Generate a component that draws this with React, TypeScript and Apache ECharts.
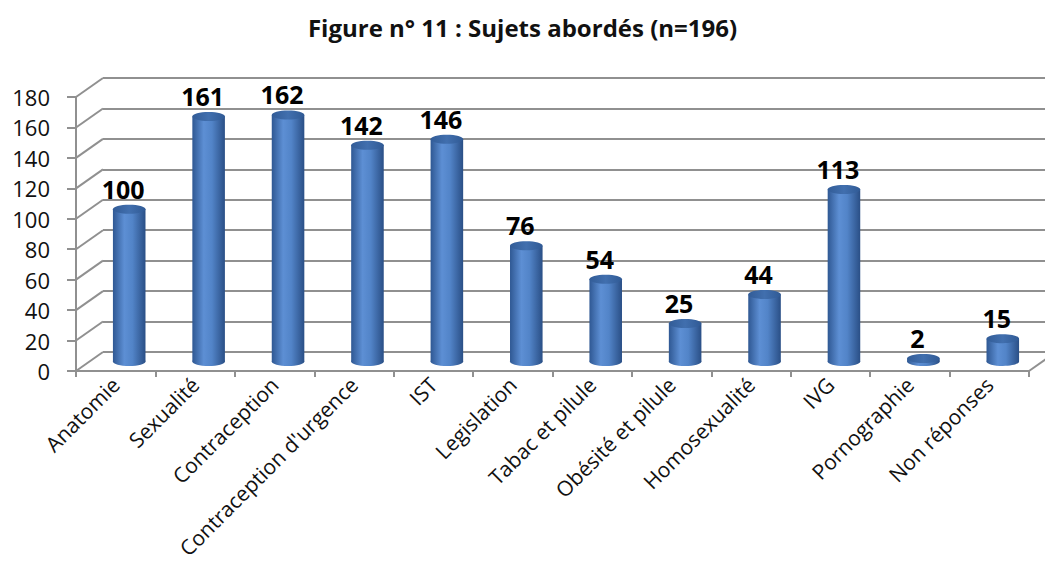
import React, { useEffect, useRef } from "react";
import * as echarts from "echarts";

const titleText = "Figure n° 11 : Sujets abordés (n=196)";
const categories = [
  "Anatomie",
  "Sexualité",
  "Contraception",
  "Contraception d'urgence",
  "IST",
  "Legislation",
  "Tabac et pilule",
  "Obésité et pilule",
  "Homosexualité",
  "IVG",
  "Pornographie",
  "Non réponses",
];
const values = [100, 161, 162, 142, 146, 76, 54, 25, 44, 113, 2, 15];
const yTicks = [0, 20, 40, 60, 80, 100, 120, 140, 160, 180];

const DX = 27;
const DY = -19;
const GRID = "#909090";
const FONT = '"Open Sans", "DejaVu Sans", sans-serif';

export default function App() {
  const ref = useRef<HTMLDivElement>(null);
  useEffect(() => {
    if (!ref.current) return;
    const chart = echarts.init(ref.current, undefined, { renderer: "svg" });

    const bodyGrad = () =>
      new echarts.graphic.LinearGradient(0, 0, 1, 0, [
        { offset: 0, color: "#2f5893" },
        { offset: 0.35, color: "#5d8fd4" },
        { offset: 0.6, color: "#5284c8" },
        { offset: 1, color: "#2a4f86" },
      ]);
    const topGrad = () =>
      new echarts.graphic.LinearGradient(0, 0, 1, 0, [
        { offset: 0, color: "#325c97" },
        { offset: 0.5, color: "#416fae" },
        { offset: 1, color: "#305a95" },
      ]);

    const option: any = {
      animation: false,
      backgroundColor: "#ffffff",
      title: {
        text: titleText,
        left: "center",
        top: 10,
        textStyle: { fontFamily: FONT, fontSize: 24, fontWeight: "bold", color: "#111" },
      },
      grid: [
        {
          left: 76,
          right: 1045 - 1029,
          top: 97,
          bottom: 566 - 371,
          containLabel: false,
          outerBoundsMode: "none",
        },
        {
          left: 76 + DX,
          right: 1045 - 1029 - DX,
          top: 97 + DY,
          bottom: 566 - 371 - DY,
          containLabel: false,
          outerBoundsMode: "none",
        },
      ],
      xAxis: [
        {
          type: "category",
          gridIndex: 0,
          data: categories,
          boundaryGap: true,
          axisLine: { show: true, lineStyle: { color: GRID, width: 2 } },
          axisTick: { show: true, length: 6, lineStyle: { color: GRID, width: 2 } },
          axisLabel: {
            interval: 0,
            rotate: 45,
            margin: 10,
            fontFamily: FONT,
            fontSize: 21,
            color: "#111",
          },
          splitLine: { show: false },
        },
        {
          type: "category",
          gridIndex: 1,
          data: categories,
          show: false,
        },
      ],
      yAxis: [
        {
          type: "value",
          gridIndex: 0,
          min: 0,
          max: 180,
          interval: 20,
          axisLine: { show: true, lineStyle: { color: GRID, width: 2 } },
          axisTick: { show: true, inside: false, length: 9, lineStyle: { color: GRID, width: 2 } },
          axisLabel: { margin: 26, fontFamily: FONT, fontSize: 22, color: "#111" },
          splitLine: { show: false },
        },
        {
          type: "value",
          gridIndex: 1,
          min: 0,
          max: 180,
          interval: 20,
          axisLine: { show: false },
          axisTick: { show: false },
          axisLabel: { show: false },
          splitLine: { show: true, lineStyle: { color: GRID, width: 2 } },
        },
      ],
      series: [
        {
          type: "custom",
          xAxisIndex: 0,
          yAxisIndex: 0,
          data: yTicks.map((t) => [0, t]),
          z: 1,
          silent: true,
          renderItem: (params: any, api: any) => {
            const v = api.value(1);
            const cs = params.coordSys;
            const p = api.coord([0, v]);
            const children: any[] = [
              {
                type: "line",
                shape: { x1: cs.x, y1: p[1], x2: cs.x + DX, y2: p[1] + DY },
                style: { stroke: GRID, lineWidth: 2 },
              },
            ];
            if (v === 0) {
              children.push({
                type: "line",
                shape: { x1: cs.x + cs.width, y1: p[1], x2: cs.x + cs.width + DX, y2: p[1] + DY },
                style: { stroke: GRID, lineWidth: 2 },
              });
            }
            return { type: "group", children };
          },
        },
        {
          type: "custom",
          xAxisIndex: 0,
          yAxisIndex: 0,
          data: values.map((v, i) => [i, v]),
          z: 5,
          renderItem: (params: any, api: any) => {
            const i = api.value(0);
            const v = api.value(1);
            const base = api.coord([i, 0]);
            const top = api.coord([i, v]);
            const band = api.size([1, 0])[0];
            const w = band * 0.41;
            const cx = base[0] + DX / 2;
            const by = base[1] + DY / 2;
            const ty = top[1] + DY / 2;
            const ry = 4.5;
            return {
              type: "group",
              children: [
                {
                  type: "ellipse",
                  shape: { cx, cy: by, rx: w / 2, ry },
                  style: { fill: bodyGrad() },
                },
                {
                  type: "rect",
                  shape: { x: cx - w / 2, y: ty, width: w, height: Math.max(0, by - ty) },
                  style: { fill: bodyGrad() },
                },
                {
                  type: "ellipse",
                  shape: { cx, cy: ty, rx: w / 2, ry },
                  style: { fill: topGrad() },
                },
                {
                  type: "text",
                  style: {
                    text: String(v),
                    x: cx - 6,
                    y: ty - 8,
                    align: "center",
                    verticalAlign: "bottom",
                    font: `bold 25px ${FONT}`,
                    fill: "#000",
                  },
                },
              ],
            };
          },
        },
      ],
    };
    chart.setOption(option);
    return () => chart.dispose();
  }, []);
  return (
    <div
      ref={ref}
      style={{ position: "absolute", left: 0, top: 0, width: 1045, height: 566, background: "#fff" }}
    />
  );
}
